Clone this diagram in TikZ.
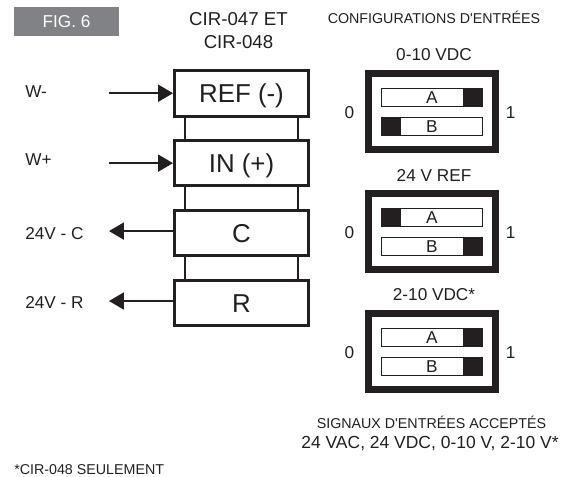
\documentclass[tikz,border=0pt]{standalone}
\usepackage{fontspec}
\setmainfont{Liberation Sans}
\usetikzlibrary{positioning,arrows.meta}
\definecolor{ink}{HTML}{231F20}
\definecolor{figgray}{HTML}{808285}
\tikzset{
  block/.style={rectangle, draw=ink, line width=2.25pt, fill=white, text=ink,
    text height=13.9pt, text depth=0pt,
    minimum width=100.5pt, minimum height=34.2pt, font=\fontsize{19.4}{22}\selectfont},
  swbox/.style={rectangle, draw=ink, line width=5.25pt, fill=white,
    minimum width=95pt, minimum height=57pt},
  toggle/.style={rectangle, draw=ink, line width=0.7pt, fill=white, text=ink, inner sep=0,
    text height=9.2pt, text depth=0pt,
    minimum width=76pt, minimum height=13.6pt, font=\fontsize{12.9}{14}\selectfont},
  knob/.style={rectangle, fill=ink, inner sep=0, minimum width=15pt, minimum height=14.3pt},
  lbl/.style={text=ink, inner sep=0, font=\fontsize{12.9}{15}\selectfont},
  smalllbl/.style={text=ink, inner sep=0, font=\fontsize{10.7}{13}\selectfont},
  wire/.style={draw=ink, line width=1.2pt, -{Triangle[length=11.2pt, width=12.8pt]}},
  link/.style={draw=ink, line width=1.5pt},
}
\begin{document}
\begin{tikzpicture}[x=0.75pt, y=-0.75pt]
  \useasboundingbox (0,0) rectangle (563,476);

  % header
  \node[rectangle, fill=figgray, text=white, font=\fontsize{12.9}{15}\selectfont,
    minimum width=78.75pt, minimum height=21.75pt] (fig) at (66.5,21.5) {FIG. 6};
  \node[lbl, font=\fontsize{14}{17.2}\selectfont, align=center] (title) at (238.5,30.5) {CIR-047 ET\\CIR-048};
  \node[smalllbl] (config) at (434,17) {CONFIGURATIONS D\textquotesingle ENTRÉES};

  % terminals
  \node[block] (ref) at (241.5,93.2) {REF (-)};
  \node[block, below=16pt of ref] (in) {IN (+)};
  \node[block, below=16pt of in] (c) {C};
  \node[block, below=16pt of c] (r) {R};

  \draw[link] ([xshift=9pt]ref.south west) -- ([xshift=9pt]in.north west);
  \draw[link] ([xshift=-9pt]ref.south east) -- ([xshift=-9pt]in.north east);
  \draw[link] ([xshift=9pt]in.south west) -- ([xshift=9pt]c.north west);
  \draw[link] ([xshift=-9pt]in.south east) -- ([xshift=-9pt]c.north east);
  \draw[link] ([xshift=9pt]c.south west) -- ([xshift=9pt]r.north west);
  \draw[link] ([xshift=-9pt]c.south east) -- ([xshift=-9pt]r.north east);

  % wires
  \node[lbl, anchor=west] (wm) at (25,92) {W-};
  \node[lbl, anchor=west] (wp) at (25,160) {W+};
  \node[lbl, anchor=west] (vc) at (25,234) {24V - C};
  \node[lbl, anchor=west] (vr) at (25,302) {24V - R};
  \coordinate (wmend) at ([xshift=-48pt]ref.west);
  \coordinate (wpend) at ([xshift=-48pt]in.west);
  \coordinate (vcend) at ([xshift=-48pt, yshift=1.5pt]c.west);
  \coordinate (vrend) at ([xshift=-48pt, yshift=1.5pt]r.west);
  \draw[wire] (wmend) -- (ref.west);
  \draw[wire] (wpend) -- (in.west);
  \draw[wire] ([yshift=1.5pt]c.west) -- (vcend);
  \draw[wire] ([yshift=1.5pt]r.west) -- (vrend);

  % 0-10 VDC
  \node[lbl] (swatitle) at (434,55) {0-10 VDC};
  \node[swbox] (swa) at (431.9,111.5) {};
  \node[toggle] (swaa) at ([yshift=10.5pt]swa.center) {A};
  \node[toggle] (swab) at ([yshift=-11.4pt]swa.center) {B};
  \node[knob, anchor=east] (swaak) at ([xshift=.35pt]swaa.east) {};
  \node[knob, anchor=west] (swabk) at ([xshift=-.35pt]swab.west) {};
  \node[lbl] (swazero) at (349.3,113) {0};
  \node[lbl] (swaone) at (510.7,113) {1};

  % 24 V REF
  \node[lbl] (swbtitle) at (434,175) {24 V REF};
  \node[swbox] (swb) at (431.9,231.5) {};
  \node[toggle] (swba) at ([yshift=10.5pt]swb.center) {A};
  \node[toggle] (swbb) at ([yshift=-11.4pt]swb.center) {B};
  \node[knob, anchor=west] (swbak) at ([xshift=-.35pt]swba.west) {};
  \node[knob, anchor=east] (swbbk) at ([xshift=.35pt]swbb.east) {};
  \node[lbl] (swbzero) at (349.3,233) {0};
  \node[lbl] (swbone) at (510.7,233) {1};

  % 2-10 VDC
  \node[lbl] (swctitle) at (434,295) {2-10 VDC*};
  \node[swbox] (swc) at (431.9,351.5) {};
  \node[toggle] (swca) at ([yshift=10.5pt]swc.center) {A};
  \node[toggle] (swcb) at ([yshift=-11.4pt]swc.center) {B};
  \node[knob, anchor=east] (swcak) at ([xshift=.35pt]swca.east) {};
  \node[knob, anchor=east] (swcbk) at ([xshift=.35pt]swcb.east) {};
  \node[lbl] (swczero) at (349.3,353) {0};
  \node[lbl] (swcone) at (510.7,353) {1};

  % notes
  \node[smalllbl] (accepted) at (431.5,422) {SIGNAUX D\textquotesingle ENTRÉES ACCEPTÉS};
  \node[lbl, font=\fontsize{13.1}{15}\selectfont] (signals) at (430,444) {24 VAC, 24 VDC, 0-10 V, 2-10 V*};
  \node[smalllbl, anchor=west] (only) at (14,470) {*CIR-048 SEULEMENT};
\end{tikzpicture}
\end{document}
